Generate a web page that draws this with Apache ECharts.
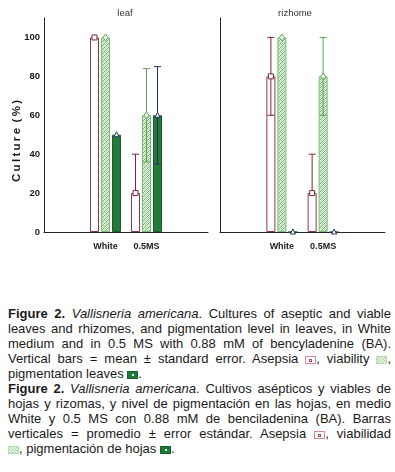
<!DOCTYPE html>
<html>
<head>
<meta charset="utf-8">
<script src="https://cdn.jsdelivr.net/npm/echarts@6/dist/echarts.min.js"></script>
<style>
  html, body { margin: 0; padding: 0; background: #fff; }
  #chart { position: absolute; left: 0; top: 0; width: 395px; height: 290px; }
  #caption {
    position: absolute; left: 8px; top: 306px; width: 383px;
    font-family: "Liberation Sans", Arial, sans-serif; font-size: 13px;
    line-height: 15.05px; color: #1a1a1a;
  }
  #caption .ln { white-space: nowrap; text-align: justify; text-align-last: justify; overflow: hidden; }
  #caption .ln.last { text-align-last: left; }
  .ico { display: inline-block; width: 11px; height: 8px; vertical-align: -1px; position: relative; box-sizing: border-box; }
  .ico.asep { border: 1px solid #d9899a; background: #fff; }
  .ico.asep::after { content: ''; position: absolute; left: 3px; top: 1.5px; width: 3px; height: 3px; border: 1px solid #b5485c; box-sizing: border-box; }
  .ico.viab { background: repeating-linear-gradient(45deg, #9fd09a 0 1px, #e9f5e4 1px 2.2px); border: 1px solid #b9dcb4; }
  .ico.pigm { background: #1f7a3c; border: 1px solid #17602e; }
  .ico.pigm::after { content: ''; position: absolute; left: 4px; top: 2px; width: 2px; height: 2px; background: #dfe; }
</style>
</head>
<body>
<div id="chart"></div>
<div id="caption">
  <div class="ln"><b>Figure 2.</b> <i>Vallisneria americana</i>. Cultures of aseptic and viable</div>
  <div class="ln">leaves and rhizomes, and pigmentation level in leaves, in White</div>
  <div class="ln">medium and in 0.5 MS with 0.88 mM of bencyladenine (BA).</div>
  <div class="ln">Vertical bars = mean ± standard error. Asepsia <span class="ico asep"></span>, viability <span class="ico viab"></span>,</div>
  <div class="ln last">pigmentation leaves <span class="ico pigm"></span>.</div>
  <div class="ln"><b>Figure 2.</b> <i>Vallisneria americana</i>. Cultivos asépticos y viables de</div>
  <div class="ln">hojas y rizomas, y nivel de pigmentación en las hojas, en medio</div>
  <div class="ln">White y 0.5 MS con 0.88 mM de benciladenina (BA). Barras</div>
  <div class="ln">verticales = promedio ± error estándar. Asepsia <span class="ico asep"></span>, viabilidad</div>
  <div class="ln last"><span class="ico viab"></span>, pigmentación de hojas <span class="ico pigm"></span>.</div>
</div>
<script>
// categories (outer slots are empty, they only pad the axis)
const categories = ['', 'White', '0.5MS', '']
const yTicks = [0, 20, 40, 60, 80, 100]

// leaf panel: mean % and standard error
const leafAsepsia = [null, 100, 20, null]
const leafAsepsiaSE = [null, 0, 20, null]
const leafViability = [null, 100, 60, null]
const leafViabilitySE = [null, 0, 24, null]
const leafPigment = [null, 50, 60, null]
const leafPigmentSE = [null, 0, 25, null]

// rhizome panel
const rhizAsepsia = [null, 80, 20, null]
const rhizAsepsiaSE = [null, 20, 20, null]
const rhizViability = [null, 100, 80, null]
const rhizViabilitySE = [null, 0, 20, null]
const rhizPigment = [null, 0, 0, null]
const rhizPigmentSE = [null, 0, 0, null]

const BAR_W = 9
const BAR_GAP = 2
const sans = '"Liberation Sans", Arial, sans-serif'

// hatched fill for viability
function hatch() {
  const c = document.createElement('canvas')
  c.width = 4; c.height = 4
  const g = c.getContext('2d')
  g.fillStyle = '#e6f3df'
  g.fillRect(0, 0, 4, 4)
  g.fillStyle = '#6fb46c'
  for (let i = 0; i < 4; i++) g.fillRect(i, 3 - i, 1, 1)
  g.fillStyle = '#b6dbb0'
  for (let i = 0; i < 4; i++) g.fillRect(i, (5 - i) % 4, 1, 1)
  return c
}

const styles = [
  { name: 'Asepsia', bar: { color: '#fff', borderColor: '#8c3a48', borderWidth: 1 }, err: '#7b2634', mark: 'square', mFill: '#fff', mStroke: '#7b2634' },
  { name: 'Viability', bar: { color: { image: hatch(), repeat: 'repeat' }, borderColor: '#7cbc78', borderWidth: 1 }, err: '#5f9f5c', mark: 'diamond', mFill: '#eef8ea', mStroke: '#5f9f5c' },
  { name: 'Pigmentation', bar: { color: '#237a3a', borderColor: '#1a5c2b', borderWidth: 1 }, err: '#27305c', mark: 'triangle', mFill: '#fff', mStroke: '#27305c' }
]

function markerShape(kind, x, y, fill, stroke) {
  const s = 2.5
  let points
  if (kind === 'square') points = [[x - s, y - s], [x + s, y - s], [x + s, y + s], [x - s, y + s]]
  else if (kind === 'diamond') points = [[x, y - s - 1], [x + s, y], [x, y + s + 1], [x - s, y]]
  else points = [[x, y - s - 0.5], [x + s, y + s - 0.5], [x - s, y + s - 0.5]]
  return { type: 'polygon', shape: { points }, style: { fill, stroke, lineWidth: 1 } }
}

function errorSeries(idx, k, means, ses) {
  const st = styles[k]
  const data = means.map((m, i) => (m == null ? null : [i, m, ses[i]])).filter(Boolean)
  return {
    type: 'custom',
    xAxisIndex: idx,
    yAxisIndex: idx,
    z: 5,
    silent: true,
    data,
    renderItem(params, api) {
      const ci = api.value(0), m = api.value(1), se = api.value(2)
      const off = (k - 1) * (BAR_W + BAR_GAP)
      const top = api.coord([ci, m])
      const x = top[0] + off
      const kids = []
      if (se > 0) {
        const hi = api.coord([ci, m + se])[1]
        const lo = m - se > 0 ? api.coord([ci, m - se])[1] : top[1]
        const ls = { stroke: st.err, lineWidth: 1 }
        kids.push({ type: 'line', shape: { x1: x, y1: hi, x2: x, y2: lo }, style: ls })
        kids.push({ type: 'line', shape: { x1: x - 3.5, y1: hi, x2: x + 3.5, y2: hi }, style: ls })
        if (m - se > 0) kids.push({ type: 'line', shape: { x1: x - 3.5, y1: lo, x2: x + 3.5, y2: lo }, style: ls })
      }
      kids.push(markerShape(st.mark, x, top[1], st.mFill, st.mStroke))
      return { type: 'group', children: kids }
    }
  }
}

function barSeries(idx, k, means) {
  return {
    name: styles[k].name,
    type: 'bar',
    xAxisIndex: idx,
    yAxisIndex: idx,
    barWidth: BAR_W,
    barGap: (BAR_GAP / BAR_W * 100) + '%',
    itemStyle: styles[k].bar,
    data: means
  }
}

const panels = [
  [leafAsepsia, leafAsepsiaSE, leafViability, leafViabilitySE, leafPigment, leafPigmentSE],
  [rhizAsepsia, rhizAsepsiaSE, rhizViability, rhizViabilitySE, rhizPigment, rhizPigmentSE]
]

const series = []
panels.forEach((p, idx) => {
  for (let k = 0; k < 3; k++) series.push(barSeries(idx, k, p[k * 2]))
  for (let k = 0; k < 3; k++) series.push(errorSeries(idx, k, p[k * 2], p[k * 2 + 1]))
})

const axisLine = { show: true, lineStyle: { color: '#222', width: 1 } }

const xAxis = [0, 1].map((i) => ({
  type: 'category',
  gridIndex: i,
  data: categories,
  axisTick: { show: false },
  axisLine,
  axisLabel: { interval: 0, color: '#1a1a1a', fontFamily: sans, fontWeight: 'bold', fontSize: 9, margin: 10 }
}))

const yAxis = [0, 1].map((i) => ({
  type: 'value',
  gridIndex: i,
  min: 0,
  max: 110,
  interval: 20,
  splitLine: { show: false },
  axisTick: { show: false },
  axisLine,
  axisLabel: {
    show: i === 0,
    color: '#1a1a1a',
    fontFamily: sans,
    fontWeight: 'bold',
    fontSize: 9.5,
    margin: 4,
    formatter: (v) => (yTicks.includes(v) ? String(v) : '')
  }
}))

const chart = echarts.init(document.getElementById('chart'))
chart.setOption({
  animation: false,
  grid: [
    { left: 44, top: 18, width: 164, height: 214 },
    { left: 220, top: 18, width: 165, height: 214 }
  ],
  xAxis,
  yAxis,
  graphic: [
    { type: 'text', x: 125, y: 13, style: { text: 'leaf', fill: '#333', fontFamily: sans, fontSize: 9.5, align: 'center', verticalAlign: 'middle' } },
    { type: 'text', x: 295, y: 13, style: { text: 'rizhome', fill: '#333', fontFamily: sans, fontSize: 9.5, align: 'center', verticalAlign: 'middle' } },
    {
      type: 'text', x: 17, y: 141, rotation: Math.PI / 2,
      style: { text: 'C\u2009u\u2009l\u2009t\u2009u\u2009r\u2009e\u2009 (\u2009%\u2009)', fill: '#1a1a1a', fontFamily: sans, fontWeight: 'bold', fontSize: 11.5, align: 'center', verticalAlign: 'middle' }
    }
  ],
  series
})

// shrink any caption line that does not fit its box
document.querySelectorAll('#caption .ln').forEach((el) => {
  let fs = 13
  while (el.scrollWidth > el.clientWidth + 0.5 && fs > 9) {
    fs -= 0.25
    el.style.fontSize = fs + 'px'
  }
})
</script>
</body>
</html>
